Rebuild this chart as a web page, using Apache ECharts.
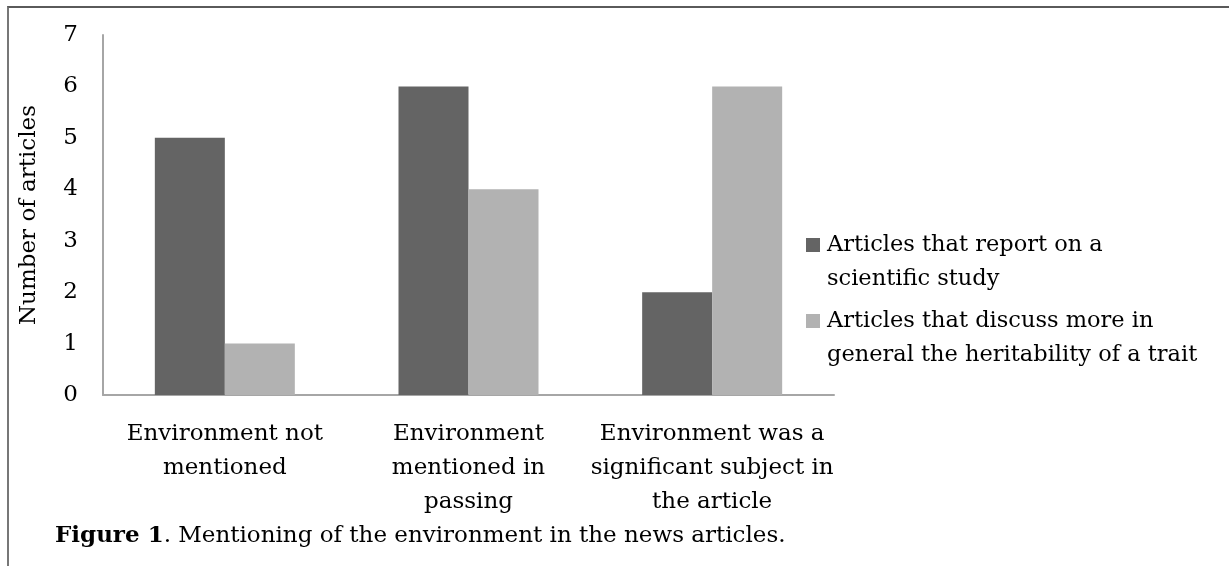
<!DOCTYPE html>
<html>
<head>
<meta charset="utf-8">
<script src="https://cdn.jsdelivr.net/npm/echarts@6/dist/echarts.min.js"></script>
<style>
  html, body { margin: 0; padding: 0; background: #fff; }
  #chart { width: 1229px; height: 566px; }
  .frame {
    position: absolute; left: 7px; top: 6px; width: 1240px; height: 600px;
    border-top: 2px solid #5a5a5a; border-left: 2px solid #777;
    pointer-events: none;
  }
</style>
</head>
<body>
<div class="frame"></div>
<div id="chart"></div>
<script>
// 数据
const categories = [
  'Environment not\nmentioned',
  'Environment\nmentioned in\npassing',
  'Environment was a\nsignificant subject in\nthe article'
]
const seriesNames = [
  'Articles that report on a\nscientific study',
  'Articles that discuss more in\ngeneral the heritability of a trait'
]
const scientificStudy = [5, 6, 2]
const generalHeritability = [1, 4, 6]
const yTicks = [0, 1, 2, 3, 4, 5, 6, 7]

const FONT = 'DejaVu Serif'
const SIZE = 23
const chart = echarts.init(document.getElementById('chart'))

// 图例文字前加一个空行，让第一行和色块对齐
const legendBase = {
  left: 806,
  padding: 0,
  itemWidth: 14,
  itemHeight: 14,
  itemGap: 0,
  icon: 'rect',
  formatter: name => '\n' + name,
  textStyle: {
    color: '#000',
    fontFamily: FONT,
    fontSize: 22.5,
    lineHeight: 34,
    padding: [0, 0, 0, 2]
  }
}

const option = {
  animation: false,
  title: {
    text: '{b|Figure 1}. Mentioning of the environment in the news articles.',
    left: 55,
    top: 525,
    padding: 0,
    textStyle: {
      color: '#000',
      fontFamily: FONT,
      fontSize: SIZE,
      fontWeight: 'normal',
      rich: {
        b: { fontFamily: FONT, fontSize: SIZE, fontWeight: 'bold', color: '#000' }
      }
    }
  },
  legend: [
    Object.assign({ data: [seriesNames[0]], top: 194 }, legendBase),
    Object.assign({ data: [seriesNames[1]], top: 270 }, legendBase)
  ],
  grid: {
    left: 103,
    right: 395,
    top: 35,
    bottom: 171,
    containLabel: false
  },
  xAxis: {
    type: 'category',
    data: categories,
    axisLine: { lineStyle: { color: '#a6a6a6', width: 2 } },
    axisTick: { show: false },
    axisLabel: {
      interval: 0,
      margin: 22,
      color: '#000',
      fontFamily: FONT,
      fontSize: SIZE,
      lineHeight: 34
    }
  },
  yAxis: {
    type: 'value',
    min: yTicks[0],
    max: yTicks[yTicks.length - 1],
    interval: 1,
    name: 'Number of articles',
    nameLocation: 'middle',
    nameGap: 62,
    nameTextStyle: { color: '#000', fontFamily: FONT, fontSize: SIZE },
    axisLine: { show: true, lineStyle: { color: '#a6a6a6', width: 2 } },
    axisTick: { show: false },
    splitLine: { show: false },
    axisLabel: { margin: 25, color: '#000', fontFamily: FONT, fontSize: SIZE }
  },
  series: [
    {
      name: seriesNames[0],
      type: 'bar',
      data: scientificStudy,
      barWidth: 70,
      barGap: '0%',
      itemStyle: { color: '#646464' }
    },
    {
      name: seriesNames[1],
      type: 'bar',
      data: generalHeritability,
      barWidth: 70,
      barGap: '0%',
      itemStyle: { color: '#b2b2b2' }
    }
  ]
}

chart.setOption(option)
</script>
</body>
</html>
